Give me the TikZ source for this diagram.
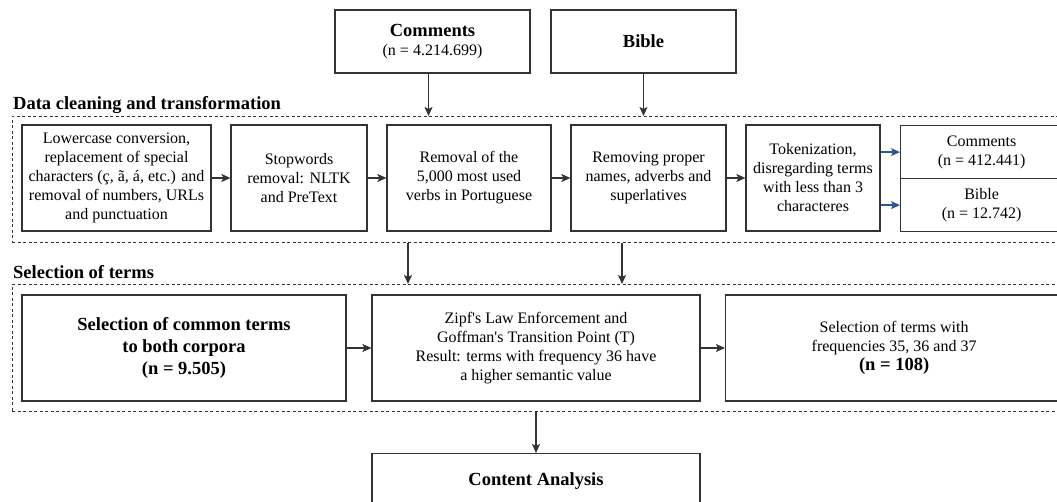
\documentclass[tikz,border=0pt]{standalone}
\usepackage{fontspec}
\setmainfont{Liberation Serif}
\usetikzlibrary{arrows.meta,positioning}
\definecolor{edge}{HTML}{333333}
\definecolor{tokblue}{HTML}{2B5797}
\tikzset{
    cell/.style={draw=edge, line width=1.2pt, align=center, inner sep=2pt, font=\fontsize{16}{19}\selectfont},
    frame/.style={draw=edge, line width=0.9pt, dash pattern=on 3pt off 2.5pt, inner sep=0pt},
    title/.style={font=\fontsize{18.5}{22}\selectfont\bfseries, inner sep=0pt, anchor=base west},
    arr/.style={draw=edge, line width=1.2pt, -{Stealth[length=9pt,width=8pt,inset=2pt]}},
    bluearr/.style={draw=tokblue, line width=1.2pt, -{Stealth[length=9pt,width=8pt,inset=2pt]}},
}
\newcommand{\bignum}[1]{{\fontsize{18.5}{22}\selectfont\bfseries #1}}

\begin{document}
\begin{tikzpicture}[x=1pt, y=-1pt]
    \useasboundingbox (0,0) rectangle (1057,502);
    \clip (0,0) rectangle (1057,502);

    % sources
    \node[cell, minimum width=195, minimum height=63] (cmt) at (432.5,41.5) {\bignum{Comments}\\(n = 4.214.699)};
    \node[cell, minimum width=185, minimum height=63] (bib) at (643.5,41.5) {\bignum{Bible}};

    % data cleaning and transformation
    \node[title] (cleantitle) at (13,110) {Data cleaning and transformation};
    \node[frame, minimum width=1060, minimum height=126, anchor=north west] (clean) at (12,116) {};

    \node[cell, minimum width=189, minimum height=106] (lower) at (116.5,178) {Lowercase conversion,\\replacement of special\\characters (ç, ã, á, etc.) and\\removal of numbers, URLs\\and punctuation};
    \node[cell, minimum width=136, minimum height=106] (stop) at (299,178) {Stopwords\\removal: NLTK\\and PreText};
    \node[cell, minimum width=164, minimum height=106] (verbs) at (469,178) {Removal of the\\5,000 most used\\verbs in Portuguese};
    \node[cell, minimum width=155, minimum height=106] (proper) at (648.5,178) {Removing proper\\names, adverbs and\\superlatives};
    \node[cell, minimum width=134, minimum height=106] (token) at (813,178) {Tokenization,\\disregarding terms\\with less than 3\\characteres};
    \node[cell, minimum width=162, minimum height=53, anchor=north west] (tokcmt) at (900,125) {Comments\\(n = 412.441)};
    \node[cell, minimum width=162, minimum height=53, anchor=north west] (tokbib) at (900,178) {Bible\\(n = 12.742)};

    % selection of terms
    \node[title] (seltitle) at (13,279) {Selection of terms};
    \node[frame, minimum width=1060, minimum height=127, anchor=north west] (select) at (12,284) {};

    \node[cell, minimum width=324, minimum height=106, font=\fontsize{18.5}{22}\selectfont\bfseries] (common) at (184,348) {Selection of common terms\\to both corpora\\(n = 9.505)};
    \node[cell, minimum width=328, minimum height=106] (zipf) at (536,348) {Zipf\textquotesingle s Law Enforcement and\\Goffman\textquotesingle s Transition Point (T)\\Result: terms with frequency 36 have\\a higher semantic value};
    \node[cell, minimum width=337, minimum height=106, anchor=west] (freq) at (725,348) {Selection of terms with\\frequencies 35, 36 and 37\\\bignum{(n = 108)}};

    % result
    \node[cell, minimum width=328, minimum height=54, anchor=north, font=\fontsize{18.5}{22}\selectfont\bfseries] (content) at (536,453) {Content Analysis};

    % connectors
    \draw[arr] ([xshift=-4pt]cmt.south) -- ([xshift=-4pt]cmt.south |- clean.north);
    \draw[arr] (bib.south) -- (bib.south |- clean.north);
    \draw[arr] (lower) -- (stop);
    \draw[arr] (stop) -- (verbs);
    \draw[arr] (verbs) -- (proper);
    \draw[arr] (proper) -- (token);
    \draw[bluearr] (token.east |- tokcmt.west) -- (tokcmt.west);
    \draw[bluearr] (token.east |- tokbib.west) -- (tokbib.west);
    \draw[arr] ([xshift=396pt]clean.south west) -- ([xshift=396pt]select.north west);
    \draw[arr] ([xshift=610pt]clean.south west) -- ([xshift=610pt]select.north west);
    \draw[arr] (common) -- (zipf);
    \draw[arr] (zipf) -- (freq);
    \draw[arr] (content.north |- select.south) -- (content.north);
\end{tikzpicture}
\end{document}
